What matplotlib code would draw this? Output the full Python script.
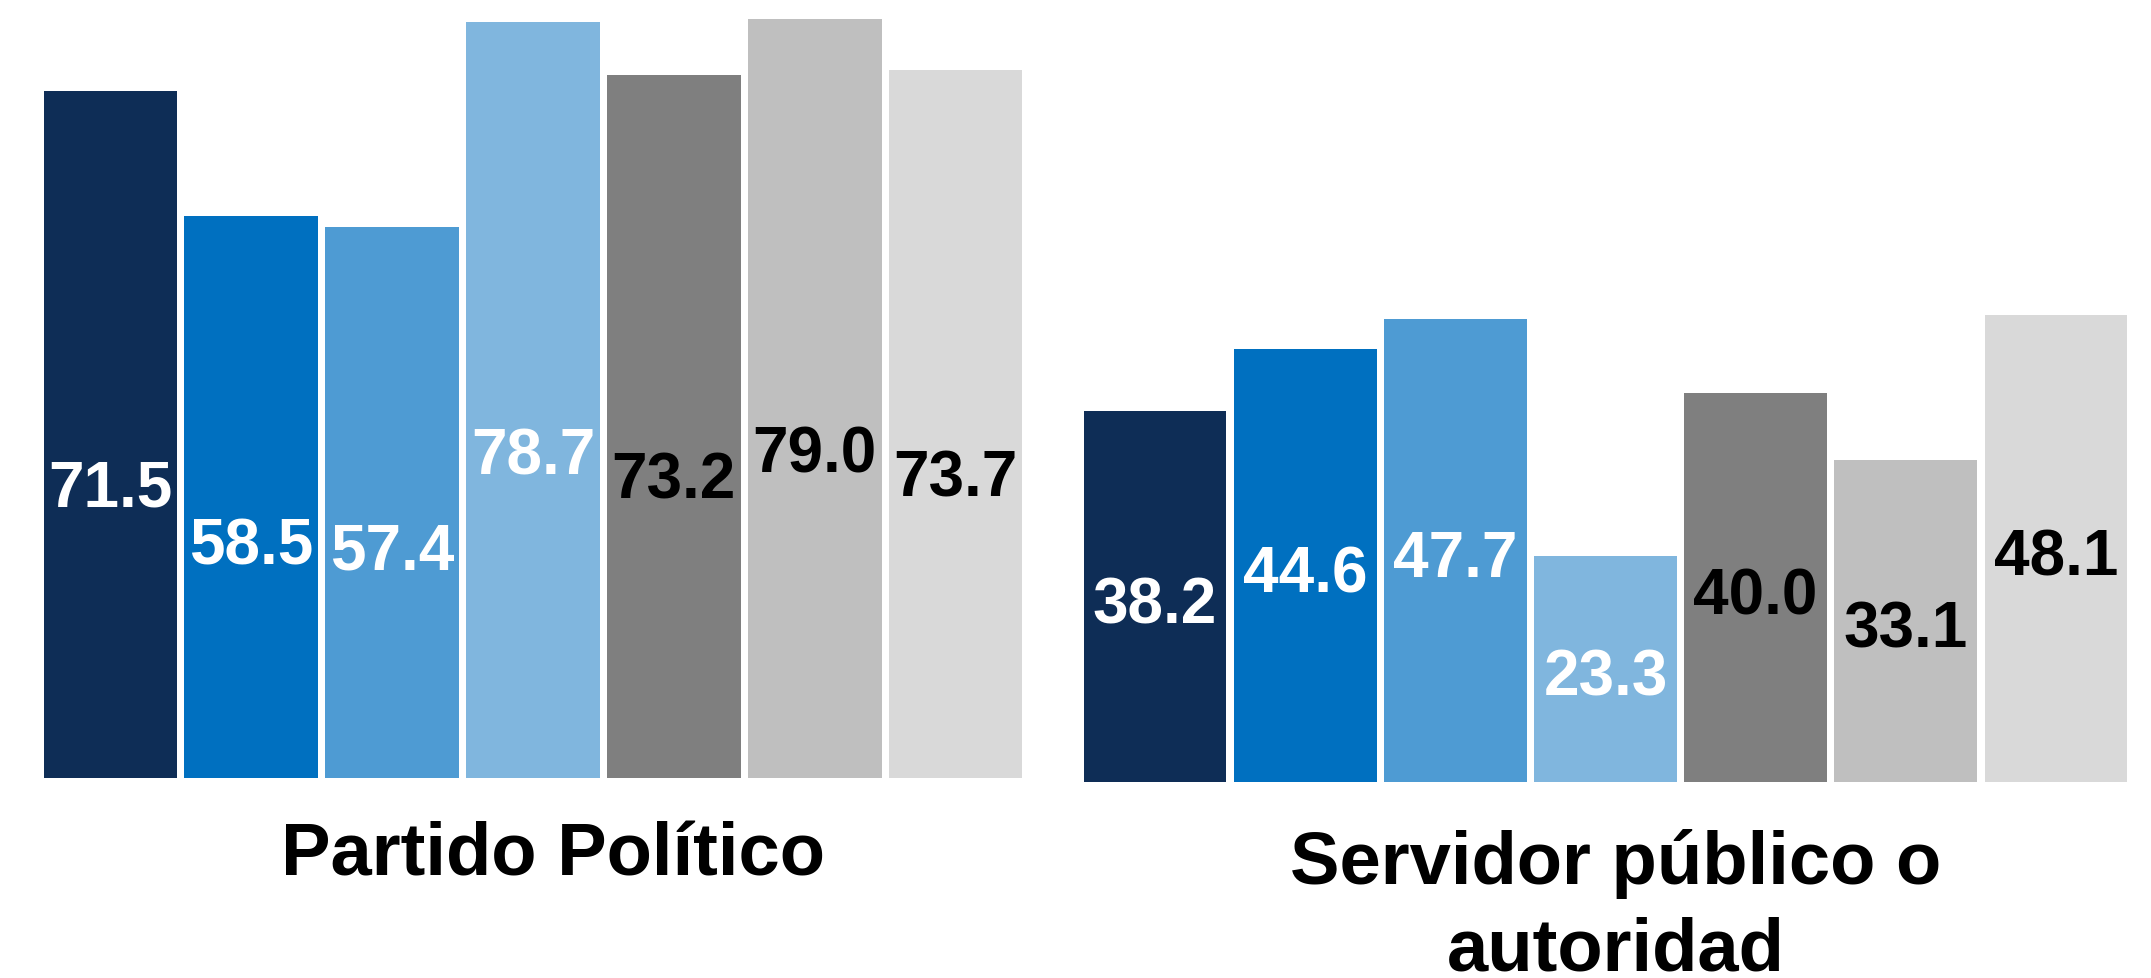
import matplotlib.pyplot as plt

# data
series = ["s1", "s2", "s3", "s4", "s5", "s6", "s7"]
colors = ["#0E2D56", "#0070C0", "#4E9BD3", "#80B6DE", "#7F7F7F", "#BFBFBF", "#D9D9D9"]
label_colors = ["white", "white", "white", "white", "black", "black", "black"]

partido_vals = [71.5, 58.5, 57.4, 78.7, 73.2, 79.0, 73.7]
servidor_vals = [38.2, 44.6, 47.7, 23.3, 40.0, 33.1, 48.1]

titles = ["Partido Político", "Servidor público o\nautoridad"]

plt.rcParams['font.family'] = ['Liberation Sans', 'DejaVu Sans']

fig = plt.figure(figsize=(21.51, 9.79), dpi=100)

# one axes per group
ax1 = fig.add_axes([40/2151, 200/979, 986/2151, 779/979])
ax2 = fig.add_axes([1080/2151, 196/979, 1051/2151, 783/979])


def draw(ax, vals, title, ytop, frac, shift, title_x, title_y):
    x = range(len(vals))
    ax.bar(x, vals, width=0.95, color=colors)
    for i, v in enumerate(vals):
        ax.text(i, v * frac + shift, "%.1f" % v, ha='center', va='center',
                fontsize=46, fontweight='bold', color=label_colors[i])
    ax.set_xlim(-0.5, len(vals) - 0.5)
    ax.set_ylim(0, ytop)
    ax.axis('off')
    ax.text(title_x, title_y, title, transform=ax.transAxes, ha='center', va='top',
            fontsize=53.5, fontweight='bold', linespacing=1.32)


draw(ax1, partido_vals, titles[0], 81.1, 0.465, -3.1, 0.52, -0.054)
draw(ax2, servidor_vals, titles[1], 80.6, 0.5, -0.9, 0.51, -0.059)

fig.savefig('out.png', dpi=100)
